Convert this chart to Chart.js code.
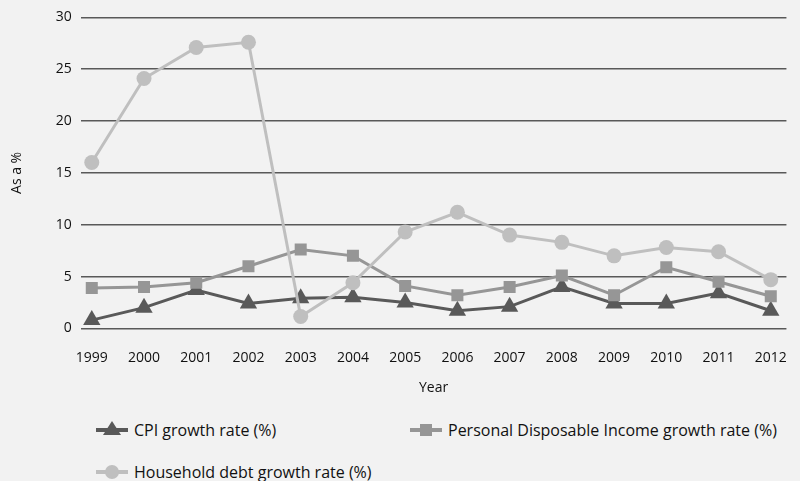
<!DOCTYPE html>
<html>
<head>
<meta charset="utf-8">
<script src="https://cdn.jsdelivr.net/npm/chart.js@4"></script>
<style>
  html, body { margin: 0; padding: 0; background: #f2f2f2; }
  #wrap { position: relative; width: 800px; height: 481px; font-family: 'Open Sans', sans-serif; color: #111; }
  #chart { position: absolute; left: 0; top: 0; }
  .item { position: absolute; display: flex; align-items: center; font-size: 16px; white-space: nowrap; }
  .item svg { margin-right: 6px; }
</style>
</head>
<body>
<div id="wrap">
  <canvas id="chart" width="800" height="400"></canvas>
  <div id="legend"></div>
</div>
<script>
const years = [1999, 2000, 2001, 2002, 2003, 2004, 2005, 2006, 2007, 2008, 2009, 2010, 2011, 2012];
const cpiGrowth = [0.8, 2.0, 3.7, 2.4, 2.9, 3.0, 2.5, 1.7, 2.1, 4.0, 2.4, 2.4, 3.4, 1.7];
const incomeGrowth = [3.9, 4.0, 4.4, 6.0, 7.6, 7.0, 4.1, 3.2, 4.0, 5.1, 3.2, 5.9, 4.5, 3.1];
const debtGrowth = [16.0, 24.1, 27.1, 27.6, 1.15, 4.4, 9.3, 11.2, 9.0, 8.3, 7.0, 7.8, 7.4, 4.7];
const yTicks = [0, 5, 10, 15, 20, 25, 30];

const font = "'Open Sans', sans-serif";
const toPoints = vals => vals.map((v, i) => ({x: years[i], y: v}));

const series = [
  {label: 'CPI growth rate (%)', data: cpiGrowth, color: '#595959', style: 'triangle', radius: 10, order: 2},
  {label: 'Personal Disposable Income growth rate (%)', data: incomeGrowth, color: '#969696', style: 'rect', radius: 8.5, order: 1},
  {label: 'Household debt growth rate (%)', data: debtGrowth, color: '#bfbfbf', style: 'circle', radius: 7.5, order: 0}
];

new Chart(document.getElementById('chart'), {
  type: 'line',
  data: {
    datasets: series.map(s => ({
      label: s.label,
      data: toPoints(s.data),
      borderColor: s.color,
      backgroundColor: s.color,
      borderWidth: 3,
      pointStyle: s.style,
      pointRadius: s.radius,
      pointBorderWidth: 0,
      pointBackgroundColor: s.color,
      order: s.order,
      tension: 0
    }))
  },
  options: {
    responsive: false,
    animation: false,
    layout: {padding: {top: 5, right: 5, left: 5}},
    plugins: {legend: {display: false}, tooltip: {enabled: false}},
    scales: {
      x: {
        type: 'linear',
        min: 1998.79,
        max: 2012.3,
        afterBuildTicks: axis => { axis.ticks = years.map(v => ({value: v})); },
        grid: {display: false},
        border: {display: false},
        ticks: {
          color: '#111', font: {family: font, size: 14}, padding: 13,
          maxRotation: 0, autoSkip: false,
          callback: v => String(v)
        },
        title: {display: true, text: 'Year', color: '#111', font: {family: font, size: 14}, padding: {top: 0}}
      },
      y: {
        min: 0,
        max: 30,
        afterBuildTicks: axis => { axis.ticks = yTicks.map(v => ({value: v})); },
        grid: {color: '#595959', lineWidth: 1.5, drawTicks: false},
        border: {display: false},
        ticks: {color: '#111', font: {family: font, size: 14}, padding: 9},
        title: {display: true, text: 'As a %', color: '#111', font: {family: font, size: 14}, padding: {bottom: 21}}
      }
    }
  }
});

// legend laid out like the original (two columns, wrapping)
const spots = [[96, 430], [410, 430], [96, 472]];
const legend = document.getElementById('legend');
series.forEach((s, i) => {
  let mark;
  if (s.style === 'triangle') mark = `<polygon points="16,1 25,15 7,15" fill="${s.color}"/>`;
  else if (s.style === 'rect') mark = `<rect x="10" y="4" width="12" height="12" fill="${s.color}"/>`;
  else mark = `<circle cx="16" cy="10" r="7" fill="${s.color}"/>`;
  const div = document.createElement('div');
  div.className = 'item';
  div.style.left = spots[i][0] + 'px';
  div.style.top = (spots[i][1] - 11) + 'px';
  div.innerHTML = `<svg width="32" height="20"><line x1="0" y1="10" x2="32" y2="10" stroke="${s.color}" stroke-width="4"/>${mark}</svg><span>${s.label}</span>`;
  legend.appendChild(div);
});
</script>
</body>
</html>
